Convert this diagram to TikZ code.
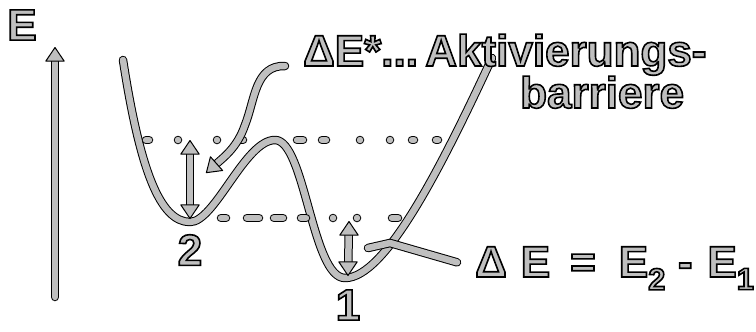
\documentclass[tikz,border=0pt]{standalone}
\usepackage{fontspec}
\setmainfont{Liberation Sans}
\usetikzlibrary{arrows.meta,calc}

\tikzset{
  pen/.style={draw=black, line width=1pt, double=black!25, double distance=6.5pt,
    line cap=round, line join=round},
  tip/.style={draw=black, line width=1pt,
    -{Triangle[length=15pt,width=20pt,round,fill=black!25]}},
  hand/.style={inner sep=0pt, font=\fontsize{44}{48}\selectfont\bfseries},
}
% gray letters with a black rim (fill and stroke text mode)
\newcommand{\inked}[1]{\textcolor{black!25}{\special{pdf:code 0 G 2 Tr 1.6 w}#1\special{pdf:code 0 Tr}}}

\begin{document}
\begin{tikzpicture}[x=1pt, y=-1pt]
\useasboundingbox (0,0) rectangle (756,332);

% energy axis
\coordinate (axbot) at (55,297);
\coordinate (axtop) at (55,47);
\draw[pen, shorten >=9pt] (axbot) -- (axtop);
\draw[tip] ($(axtop)+(0,12)$) -- (axtop);
\node[hand] (elabel) at (22,25) {\inked{E}};

% potential curve
\draw[pen] (123,60) .. controls (140,170) and (160,222) .. (190,222)
  .. controls (215,222) and (245,140) .. (275,140)
  .. controls (305,140) and (312,278) .. (345,278)
  .. controls (385,278) and (440,170) .. (492,58);

% energy levels
\draw[pen, dash pattern=on 3pt off 29pt on 0pt off 39pt on 0pt off 24pt on 2pt off 54pt on 6pt off 19pt on 4pt off 34pt on 0pt off 30pt on 0pt off 22pt on 2pt off 22pt on 2pt]
  (146,140) -- (438,140);
\draw[pen, dash pattern=on 5pt off 21pt on 12pt off 15pt on 9pt off 18pt on 5pt off 27pt on 0pt off 24pt on 0pt off 35pt on 6pt]
  (221,218) -- (398,218);

% minima
\node[hand] (mintwo) at (190,250) {\inked{2}};
\node[hand] (minone) at (348,305) {\inked{1}};

% barrier height
\coordinate (barrtop) at (190,140);
\coordinate (barrbot) at (190,219);
\draw[pen, shorten >=9pt, shorten <=9pt] (barrbot) -- (barrtop);
\draw[tip] ($(barrtop)+(0,12)$) -- (barrtop);
\draw[tip] ($(barrbot)+(0,-12)$) -- (barrbot);

% energy difference
\coordinate (difftop) at (349,221);
\coordinate (diffbot) at (348,276);
\draw[pen, shorten >=9pt, shorten <=9pt] (diffbot) -- (difftop);
\draw[tip] ($(difftop)+(0,12)$) -- (difftop);
\draw[tip] ($(diffbot)+(0,-12)$) -- (diffbot);

% labels
\node[hand, inner xsep=18pt, anchor=base west] (actlabel) at (285,66)
  {\inked{ΔE*...\,Aktivierungs-}};
\node[hand, anchor=base west] (barlabel) at (520,108) {\inked{barriere}};
\node[hand, inner xsep=18pt, anchor=base west] (difflabel) at (457,277)
  {\inked{Δ\hspace{14pt}E\hspace{20pt}=\hspace{23pt}E\textsubscript{2}\hspace{12pt}-\hspace{15pt}E\textsubscript{1}}};

% pointers
\coordinate (actend) at (206,173);
\draw[pen, shorten >=9pt] (actlabel.base west) .. controls (255,65) and (255,100) .. (245,125)
  .. controls (237,148) and (224,157) .. (actend);
\draw[tip] ($(actend)!12pt!(224,157)$) -- (actend);
\coordinate (diffstart) at (368,248);
\draw[pen] (diffstart) -- (390,243) -- ([yshift=6pt]difflabel.west);
\end{tikzpicture}
\end{document}
